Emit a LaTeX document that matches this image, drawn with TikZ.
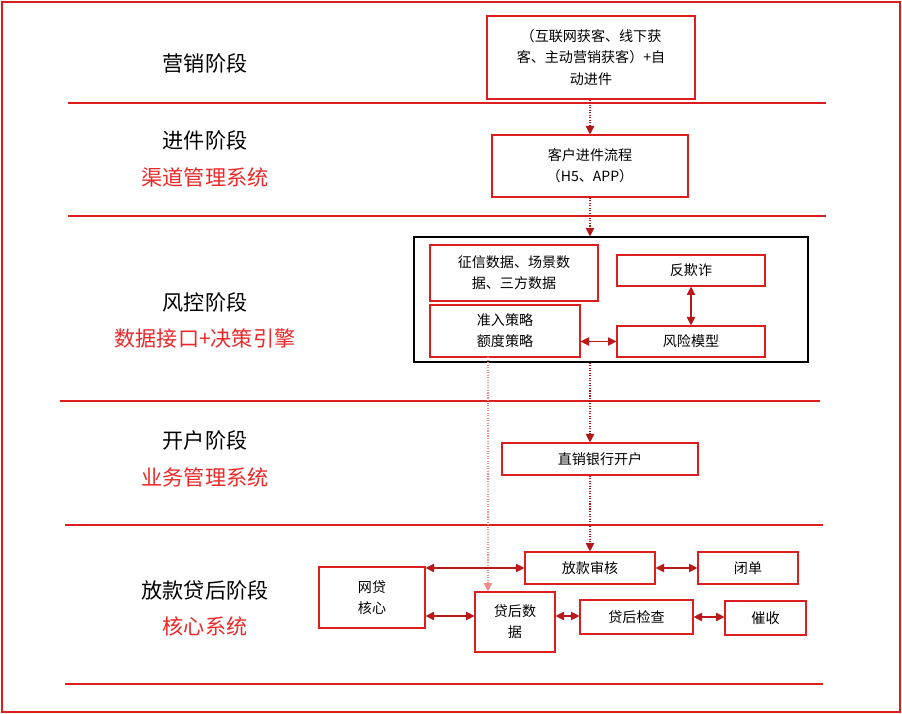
\documentclass[tikz,border=0pt]{standalone}
\usepackage{fontspec}
\setmainfont{Noto Sans CJK SC}
\usetikzlibrary{positioning, arrows.meta}
\definecolor{redline}{RGB}{220,30,30}
\definecolor{redtext}{RGB}{235,40,40}
\begin{document}
\begin{tikzpicture}[
    x=0.025cm, y=-0.025cm,
    stage/.style={font=\fontsize{15}{18}\selectfont, text=black},
    sys/.style={font=\fontsize{15}{18}\selectfont, text=redtext},
    box/.style={rectangle, draw=redline, thick, font=\fontsize{10}{15}\selectfont, align=center, inner sep=2pt},
    sep/.style={draw=redline, thick},
    flow/.style={draw=redline!80!black, densely dotted, thick, -{Triangle[length=6pt,width=6pt]}},
    both/.style={draw=redline!85!black, thick, {Triangle[length=6pt,width=6pt]}-{Triangle[length=6pt,width=6pt]}}
]
\useasboundingbox (0,0) rectangle (902,714);
\draw[redline, thick] (2,2) rectangle (900,712);

% separators
\draw[sep] (68,103) -- (826,103);
\draw[sep] (68,216) -- (826,216);
\draw[sep] (60,401) -- (820,401);
\draw[sep] (65,525) -- (823,525);
\draw[sep] (65,684) -- (823,684);

% stage labels
\node (s1) [stage] at (205,63) {营销阶段};
\node (s2) [stage] at (205,140) {进件阶段};
\node (s2b) [sys] at (205,177) {渠道管理系统};
\node (s3) [stage] at (205,302) {风控阶段};
\node (s3b) [sys] at (205,338) {数据接口+决策引擎};
\node (s4) [stage] at (205,440) {开户阶段};
\node (s4b) [sys] at (205,477) {业务管理系统};
\node (s5) [stage] at (205,590) {放款贷后阶段};
\node (s5b) [sys] at (205,626) {核心系统};

% boxes
\node (market) [box, minimum width=208*0.025cm, minimum height=83*0.025cm] at (591,57.5) {（互联网获客、线下获\\客、主动营销获客）+自\\动进件};
\node (apply) [box, minimum width=196*0.025cm, minimum height=62*0.025cm] at (590,166) {客户进件流程\\（H5、APP）};
\node (risk) [draw=black, thick, minimum width=394*0.025cm, minimum height=125*0.025cm] at (611,299.5) {};
\node (credit) [box, minimum width=168*0.025cm, minimum height=56*0.025cm] at (514,273) {征信数据、场景数\\据、三方数据};
\node (fraud) [box, minimum width=148*0.025cm, minimum height=31*0.025cm] at (691,270.5) {反欺诈};
\node (policy) [box, minimum width=150*0.025cm, minimum height=52*0.025cm] at (505,331) {准入策略\\额度策略};
\node (model) [box, minimum width=148*0.025cm, minimum height=31*0.025cm] at (691,341.5) {风险模型};
\node (bank) [box, minimum width=196*0.025cm, minimum height=32*0.025cm] at (600,459) {直销银行开户};
\node (audit) [box, minimum width=130*0.025cm, minimum height=32*0.025cm] at (590,568) {放款审核};
\node (close) [box, minimum width=100*0.025cm, minimum height=32*0.025cm] at (748,568) {闭单};
\node (core) [box, minimum width=106*0.025cm, minimum height=61*0.025cm] at (372,597.5) {网贷\\核心};
\node (post) [box, minimum width=80*0.025cm, minimum height=60*0.025cm] at (515,622) {贷后数\\据};
\node (check) [box, minimum width=113*0.025cm, minimum height=34*0.025cm] at (636.5,617) {贷后检查};
\node (collect) [box, minimum width=81*0.025cm, minimum height=34*0.025cm] at (765.5,618) {催收};

% flow
\draw[flow] (market.south -| apply.north) -- (apply.north);
\draw[flow] (apply.south) -- (apply.south |- risk.north);
\draw[flow] (risk.south -| apply.south) -- (bank.north -| apply.south);
\draw[flow] (bank.south -| apply.south) -- (audit.north -| apply.south);
\draw[flow, densely dotted, draw=redline!50] (488,357) -- (post.north -| 488,0);
\draw[both] (fraud.south) -- (model.north);
\draw[both] (policy.east |- model.west) -- (model.west);
\draw[both] (core.east |- audit.west) -- (audit.west);
\draw[both] (core.east |- 0,616) -- (post.west |- 0,616);
\draw[both] (post.east |- 0,616) -- (check.west |- 0,616);
\draw[both] (audit.east) -- (close.west);
\draw[both] (check.east |- 0,617) -- (collect.west |- 0,617);
\end{tikzpicture}
\end{document}
